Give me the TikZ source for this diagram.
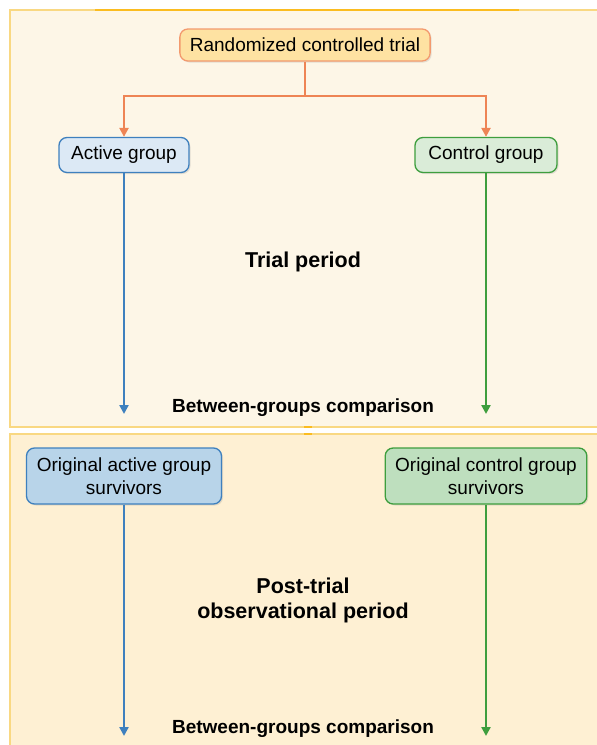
\documentclass[tikz,border=0pt]{standalone}
\usepackage{fontspec}
\setmainfont{Liberation Sans}
\usepackage{tikz}
\usetikzlibrary{arrows.meta,positioning,shadows}

\definecolor{panelA}{HTML}{FDF6E7}
\definecolor{panelB}{HTML}{FEF0D3}
\definecolor{panelLine}{HTML}{F9D882}
\definecolor{amber}{HTML}{FBBC20}
\definecolor{orangeLine}{HTML}{EE8455}
\definecolor{rctFill}{HTML}{FEE2A2}
\definecolor{rctLine}{HTML}{F39A6E}
\definecolor{blueLine}{HTML}{3E80BE}
\definecolor{greenLine}{HTML}{3E9E3E}
\definecolor{activeFill}{HTML}{DCE9F5}
\definecolor{controlFill}{HTML}{DAECD8}
\definecolor{survActive}{HTML}{B8D4E9}
\definecolor{survControl}{HTML}{BEDFBE}

\begin{document}
\begin{tikzpicture}[x=1pt,y=-1pt,
                    every node/.style={font=\fontsize{19}{23}\selectfont},
                    group node/.style={rectangle, rounded corners=8pt, draw, line width=1.3pt,
                      align=center, inner xsep=10pt,
                      drop shadow={shadow xshift=1.5pt, shadow yshift=-1.5pt, opacity=0.2}},
                    period label/.style={font=\fontsize{21.5}{25}\selectfont\bfseries, align=center},
                    compare label/.style={font=\fontsize{19}{23}\selectfont\bfseries},
                    tip/.style={-{Triangle[length=9pt,width=9pt]}}]

  \useasboundingbox (0,0) rectangle (597,745);

  %Panels%
  \fill[panelA] (10,10) rectangle (597,427);
  \draw[panelLine, line width=1.2pt] (597,10) -- (10,10) -- (10,427) -- (597,427);
  \draw[amber, line width=2.2pt] (95,10) -- (519,10);
  \fill[panelB] (10,434) rectangle (597,745);
  \draw[panelLine, line width=1.2pt] (597,434) -- (10,434) -- (10,745);
  \draw[amber, line width=1.5pt] (304,427) -- (312,427);
  \draw[amber, line width=1.5pt] (304,434) -- (312,434);

  %Nodes%
  \node[group node, fill=rctFill, draw=rctLine, minimum height=32pt] (rct) at (305,45) {Randomized controlled trial};
  \node[group node, fill=activeFill, draw=blueLine, minimum height=35pt, minimum width=130pt] (active) at (124,155) {Active group};
  \node[group node, fill=controlFill, draw=greenLine, minimum height=35pt, minimum width=142pt] (control) at (486,155) {Control group};
  \node[period label] (trial) at (303,262) {Trial period};
  \node[compare label] (cmpA) at (303,408) {Between-groups comparison};

  \node[group node, fill=survActive, draw=blueLine, minimum height=56pt, minimum width=195pt] (survA) at (124,476) {Original active group\\survivors};
  \node[group node, fill=survControl, draw=greenLine, minimum height=56pt, minimum width=193pt] (survC) at (486,476) {Original control group\\survivors};
  \node[period label] (post) at (303,600) {Post-trial\\observational period};
  \node[compare label] (cmpB) at (303,729) {Between-groups comparison};

  \coordinate (split) at (305,96);
  \coordinate (endA) at (124,414);
  \coordinate (endC) at (486,414);
  \coordinate (endSA) at (124,736);
  \coordinate (endSC) at (486,736);

  %Connectors%
  \draw[orangeLine, line width=2.4pt] (rct.south) -- (split);
  \draw[orangeLine, line width=2.4pt, tip] (split) -| (active.north);
  \draw[orangeLine, line width=2.4pt, tip] (split) -| (control.north);
  \draw[blueLine, line width=2.4pt, tip] (active.south) -- (endA);
  \draw[greenLine, line width=2.4pt, tip] (control.south) -- (endC);
  \draw[blueLine, line width=2.4pt, tip] (survA.south) -- (endSA);
  \draw[greenLine, line width=2.4pt, tip] (survC.south) -- (endSC);
\end{tikzpicture}
\end{document}
